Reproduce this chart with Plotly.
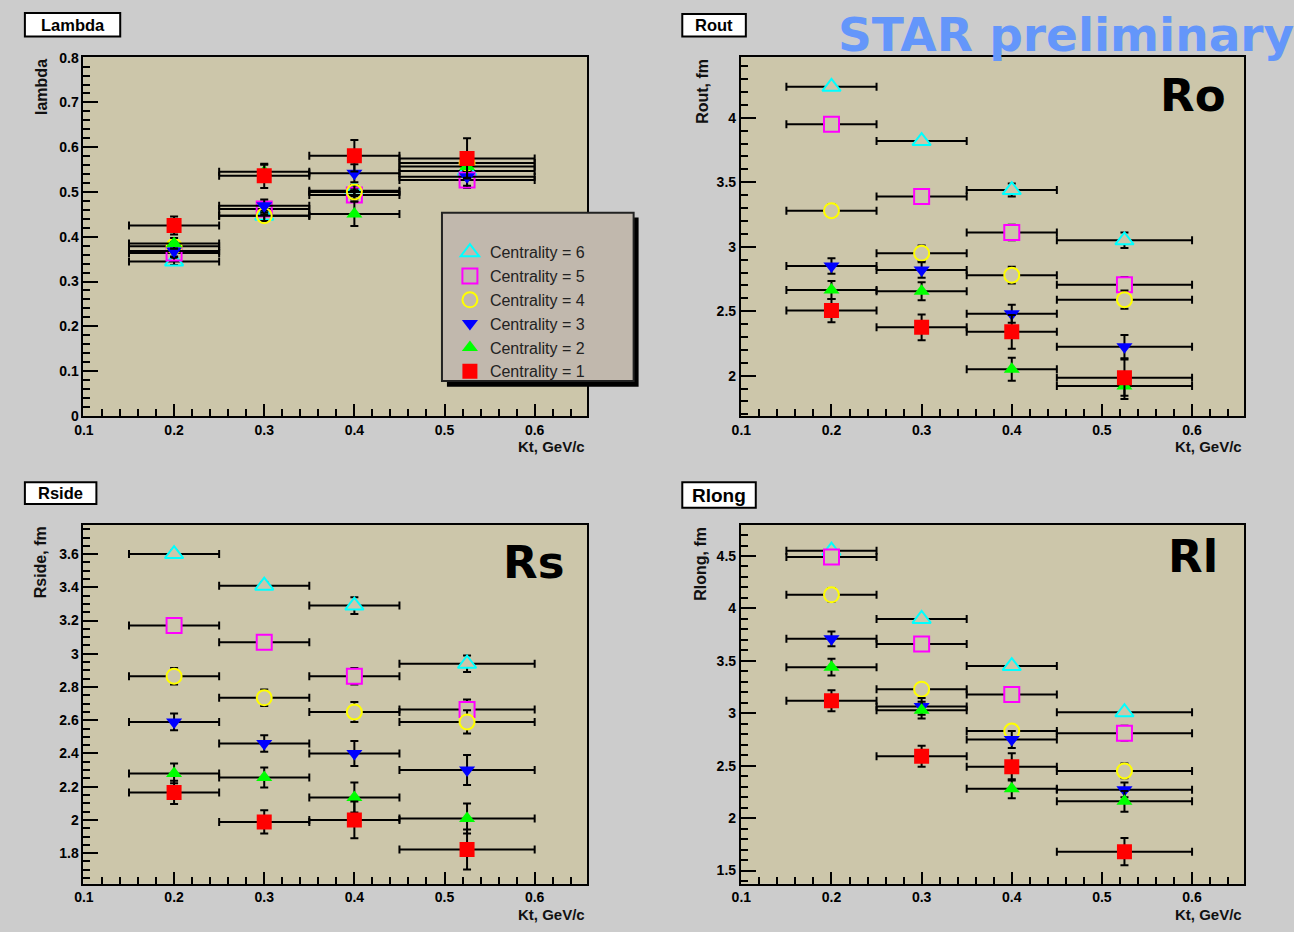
import plotly.graph_objects as go

# The page body keeps its default 8px margin on every side, so the figure is
# sized to make the whole page exactly 1310 x 948 and placed 8px in.
OFF = 8
W, H = 1310 - 2 * OFF, 948 - 2 * OFF

# ---------------- data ----------------
kt = [0.2, 0.3, 0.4, 0.525]
kt_err = [0.05, 0.05, 0.05, 0.075]

centralities = ["Centrality = 6", "Centrality = 5", "Centrality = 4",
                "Centrality = 3", "Centrality = 2", "Centrality = 1"]

lambda_vals = {
    "Centrality = 6": [0.345, 0.447, 0.503, 0.547],
    "Centrality = 5": [0.364, 0.462, 0.493, 0.527],
    "Centrality = 4": [0.379, 0.447, 0.500, 0.565],
    "Centrality = 3": [0.368, 0.469, 0.542, 0.534],
    "Centrality = 2": [0.385, 0.545, 0.451, 0.557],
    "Centrality = 1": [0.425, 0.536, 0.581, 0.575],
}
lambda_errs = {
    "Centrality = 6": [0.008, 0.010, 0.012, 0.015],
    "Centrality = 5": [0.010, 0.012, 0.014, 0.018],
    "Centrality = 4": [0.010, 0.012, 0.015, 0.018],
    "Centrality = 3": [0.012, 0.014, 0.020, 0.020],
    "Centrality = 2": [0.012, 0.016, 0.027, 0.025],
    "Centrality = 1": [0.020, 0.027, 0.035, 0.045],
}

rout_vals = {
    "Centrality = 6": [4.24, 3.82, 3.44, 3.05],
    "Centrality = 5": [3.95, 3.39, 3.11, 2.705],
    "Centrality = 4": [3.28, 2.95, 2.78, 2.59],
    "Centrality = 3": [2.85, 2.82, 2.48, 2.225],
    "Centrality = 2": [2.665, 2.655, 2.05, 1.92],
    "Centrality = 1": [2.505, 2.375, 2.34, 1.985],
}
rout_errs = {
    "Centrality = 6": [0.02, 0.02, 0.05, 0.06],
    "Centrality = 5": [0.02, 0.02, 0.06, 0.06],
    "Centrality = 4": [0.05, 0.06, 0.065, 0.07],
    "Centrality = 3": [0.06, 0.06, 0.07, 0.09],
    "Centrality = 2": [0.07, 0.07, 0.09, 0.10],
    "Centrality = 1": [0.09, 0.10, 0.13, 0.14],
}

rside_vals = {
    "Centrality = 6": [3.60, 3.41, 3.29, 2.94],
    "Centrality = 5": [3.17, 3.07, 2.865, 2.665],
    "Centrality = 4": [2.865, 2.735, 2.65, 2.59],
    "Centrality = 3": [2.59, 2.46, 2.40, 2.30],
    "Centrality = 2": [2.28, 2.255, 2.135, 2.008],
    "Centrality = 1": [2.165, 1.988, 2.0, 1.822],
}
rside_errs = {
    "Centrality = 6": [0.02, 0.02, 0.05, 0.05],
    "Centrality = 5": [0.02, 0.02, 0.05, 0.06],
    "Centrality = 4": [0.05, 0.05, 0.06, 0.07],
    "Centrality = 3": [0.05, 0.05, 0.075, 0.09],
    "Centrality = 2": [0.06, 0.06, 0.09, 0.09],
    "Centrality = 1": [0.07, 0.07, 0.11, 0.12],
}

rlong_vals = {
    "Centrality = 6": [4.55, 3.90, 3.45, 3.01],
    "Centrality = 5": [4.49, 3.66, 3.18, 2.81],
    "Centrality = 4": [4.13, 3.23, 2.83, 2.45],
    "Centrality = 3": [3.71, 3.065, 2.75, 2.27],
    "Centrality = 2": [3.44, 3.03, 2.28, 2.16],
    "Centrality = 1": [3.12, 2.59, 2.49, 1.68],
}
rlong_errs = {
    "Centrality = 6": [0.02, 0.02, 0.02, 0.02],
    "Centrality = 5": [0.03, 0.03, 0.03, 0.07],
    "Centrality = 4": [0.065, 0.05, 0.05, 0.07],
    "Centrality = 3": [0.07, 0.08, 0.08, 0.07],
    "Centrality = 2": [0.08, 0.08, 0.09, 0.10],
    "Centrality = 1": [0.10, 0.10, 0.13, 0.13],
}

panel_titles = ["Lambda", "Rout", "Rside", "Rlong"]
y_titles = ["lambda", "Rout, fm", "Rside, fm", "Rlong, fm"]
x_title = "Kt, GeV/c"
big_labels = ["Ro", "Rs", "Rl"]

# ---------------- styles ----------------
FONT = "Liberation Sans"
BIGFONT = "DejaVu Sans"
TAN = "#ccc6aa"
GREY = "#cccccc"

styles = {
    "Centrality = 6": dict(symbol="triangle-up", color="#00ffff", size=16, hollow=True),
    "Centrality = 5": dict(symbol="square", color="#ff00ff", size=15, hollow=True),
    "Centrality = 4": dict(symbol="circle", color="#ffff00", size=15, hollow=True),
    "Centrality = 3": dict(symbol="triangle-down", color="#0000ff", size=14, hollow=False),
    "Centrality = 2": dict(symbol="triangle-up", color="#00ff00", size=14, hollow=False),
    "Centrality = 1": dict(symbol="square", color="#ff0000", size=15, hollow=False),
}

def X(px):
    """window pixel x -> paper fraction"""
    return (px - OFF) / W

def Y(py):
    """window pixel y -> paper fraction"""
    return 1 - (py - OFF) / H

fig = go.Figure()

# (xaxis, yaxis, values, errors, mask error bars inside hollow markers)
panels = [
    ("x", "y", lambda_vals, lambda_errs, False),
    ("x2", "y2", rout_vals, rout_errs, True),
    ("x3", "y3", rside_vals, rside_errs, True),
    ("x4", "y4", rlong_vals, rlong_errs, True),
]

for pi, (xa, ya, vals, errs, mask) in enumerate(panels):
    for c in centralities:
        st = styles[c]
        if st["hollow"]:
            if mask:
                marker = dict(symbol=st["symbol"], color=TAN, size=st["size"],
                              line=dict(width=2, color=st["color"]))
            else:
                marker = dict(symbol=st["symbol"] + "-open", color=st["color"], size=st["size"],
                              line=dict(width=2, color=st["color"]))
        else:
            marker = dict(symbol=st["symbol"], color=st["color"], size=st["size"],
                          line=dict(width=0, color=st["color"]))
        fig.add_trace(go.Scatter(
            x=kt, y=vals[c], xaxis=xa, yaxis=ya, mode="markers",
            name=c, showlegend=(pi == 0), marker=marker,
            error_x=dict(type="data", array=kt_err, color="black", thickness=2, width=4),
            error_y=dict(type="data", array=errs[c], color="black", thickness=2, width=4),
            hoverinfo="x+y+name",
        ))

tickfont = dict(family=FONT, size=14, color="black", weight="bold")

def xaxis_cfg(domain, anchor):
    return dict(domain=domain, anchor=anchor, range=[0.0995, 0.658],
                tick0=0.1, dtick=0.1, ticks="inside", ticklen=12, tickwidth=2,
                tickcolor="black", showline=True, linewidth=2, linecolor="black",
                mirror=True, showgrid=False, zeroline=False, tickfont=tickfont,
                minor=dict(tick0=0.1, dtick=0.02, ticks="inside", ticklen=7,
                           tickwidth=2, tickcolor="black", showgrid=False))

def yaxis_cfg(domain, anchor, rng, dtick, mdtick):
    return dict(domain=domain, anchor=anchor, range=rng,
                tick0=0, dtick=dtick, ticks="inside", ticklen=15, tickwidth=2,
                tickcolor="black", showline=True, linewidth=2, linecolor="black",
                mirror=True, showgrid=False, zeroline=False, tickfont=tickfont,
                minor=dict(tick0=0, dtick=mdtick, ticks="inside", ticklen=7,
                           tickwidth=2, tickcolor="black", showgrid=False))

xl = [X(83), X(590)]
xr = [X(745), X(1252)]
yt = [Y(423), Y(58)]
yb = [Y(898), Y(533)]

fig.update_layout(
    xaxis=xaxis_cfg(xl, "y"),
    yaxis=yaxis_cfg(yt, "x", [-0.001, 0.801], 0.1, 0.02),
    xaxis2=xaxis_cfg(xr, "y2"),
    yaxis2=yaxis_cfg(yt, "x2", [1.685, 4.47], 0.5, 0.1),
    xaxis3=xaxis_cfg(xl, "y3"),
    yaxis3=yaxis_cfg(yb, "x3", [1.616, 3.778], 0.2, 0.05),
    xaxis4=xaxis_cfg(xr, "y4"),
    yaxis4=yaxis_cfg(yb, "x4", [1.375, 4.8], 0.5, 0.1),
)

shapes = []
annotations = []

# panel title boxes
title_boxes = [(24, 120, 13, 37, 16.5), (686, 750, 14, 37, 16.5),
               (24, 96, 490, 512, 16.5), (686, 760, 490, 516, 19)]
for t, (x0, x1, y0, y1, fs) in zip(panel_titles, title_boxes):
    shapes.append(dict(type="rect", xref="paper", yref="paper",
                       x0=X(x0), x1=X(x1), y0=Y(y1), y1=Y(y0),
                       fillcolor="white", line=dict(color="black", width=2)))
    annotations.append(dict(x=X((x0 + x1) / 2), y=Y((y0 + y1) / 2), xref="paper", yref="paper",
                            text=t, showarrow=False, xanchor="center", yanchor="middle",
                            font=dict(family=FONT, size=fs, color="black", weight="bold")))

# y-axis titles (rotated, aligned to the top of the axis)
ytitle_pos = [(40, 58), (707, 58), (40, 533), (704, 533)]
for t, (px, py) in zip(y_titles, ytitle_pos):
    annotations.append(dict(x=X(px), y=Y(py), xref="paper", yref="paper", text=t,
                            textangle=-90, showarrow=False, xanchor="center", yanchor="top",
                            font=dict(family=FONT, size=16, color="#111", weight="bold")))

# x-axis titles (right aligned)
xtitle_pos = [(590, 454), (1252, 454), (590, 929), (1252, 929)]
for px, py in xtitle_pos:
    annotations.append(dict(x=X(px), y=Y(py), xref="paper", yref="paper", text=x_title,
                            showarrow=False, xanchor="right", yanchor="middle",
                            font=dict(family=FONT, size=15, color="#111", weight="bold")))

# big labels
big_pos = [(1200, 97), (536, 572), (1200, 565)]
for t, (px, py) in zip(big_labels, big_pos):
    annotations.append(dict(x=X(px), y=Y(py), xref="paper", yref="paper", text=t,
                            showarrow=False, xanchor="center", yanchor="middle",
                            font=dict(family=BIGFONT, size=45, color="black", weight="bold")))

# STAR preliminary
annotations.append(dict(x=X(1304), y=Y(35), xref="paper", yref="paper", text="STAR preliminary",
                        showarrow=False, xanchor="right", yanchor="middle",
                        font=dict(family=BIGFONT, size=47, color="#6496fa", weight="bold")))

# legend box with shadow
shapes.append(dict(type="rect", xref="paper", yref="paper",
                   x0=X(449), x1=X(642), y0=Y(393), y1=Y(221),
                   fillcolor="black", line=dict(width=0), layer="above"))
shapes.append(dict(type="rect", xref="paper", yref="paper",
                   x0=X(444), x1=X(637), y0=Y(387), y1=Y(216),
                   fillcolor="#c1b8ad", line=dict(color="#222", width=2), layer="above"))

fig.update_layout(
    width=W, height=H, autosize=False,
    margin=dict(l=0, r=0, t=0, b=0),
    paper_bgcolor=GREY, plot_bgcolor=TAN,
    shapes=shapes, annotations=annotations,
    legend=dict(x=X(452), y=Y(239), xanchor="left", yanchor="top",
                bgcolor="rgba(0,0,0,0)", borderwidth=0,
                font=dict(family=FONT, size=16, color="#222"),
                traceorder="normal", itemclick=False, itemdoubleclick=False),
    showlegend=True,
)

fig.write_html("out.html", config={"displayModeBar": False})
